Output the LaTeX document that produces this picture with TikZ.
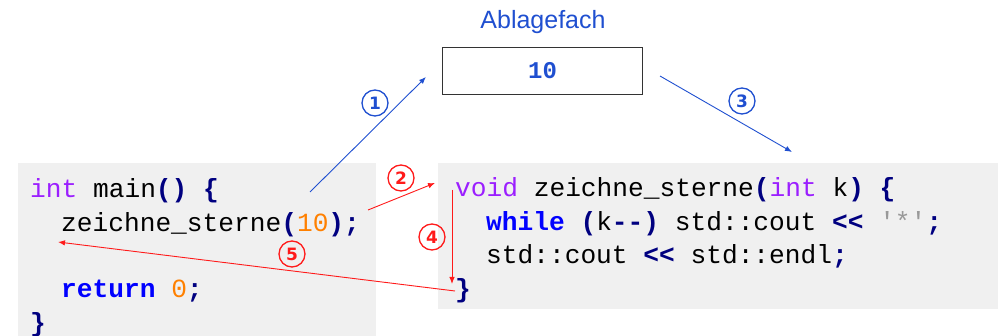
\documentclass[tikz,border=0pt]{standalone}
\usepackage{fontspec}
\setmainfont{Liberation Sans}
\newfontfamily\codefont{Liberation Mono}[Ligatures=TeXOff]
\newfontfamily\numfont{DejaVu Sans}
\usetikzlibrary{arrows.meta}
\definecolor{bgc}{HTML}{F0F0F0}
\definecolor{abl}{HTML}{1F4FD0}
\definecolor{kwt}{HTML}{9B1FFF}
\definecolor{brk}{HTML}{000080}
\definecolor{num}{HTML}{FF8000}
\definecolor{kwb}{HTML}{0000FF}
\definecolor{redc}{HTML}{FF1A1A}
\newcommand{\ty}[1]{\textcolor{kwt}{#1}}
\newcommand{\br}[1]{\textcolor{brk}{\bfseries #1}}
\newcommand{\nm}[1]{\textcolor{num}{#1}}
\newcommand{\kw}[1]{\textcolor{kwb}{\bfseries #1}}
\begin{document}
\begin{tikzpicture}[x=1pt,y=-1pt,
  code/.style={anchor=base west,inner sep=0pt,font=\codefont\fontsize{26.2}{30}\selectfont},
  num/.style={circle,draw=#1,text=#1,line width=1.3pt,inner sep=0pt,minimum size=26pt,font=\numfont\bfseries\fontsize{17}{18}\selectfont},
  barrow/.style={draw=abl,line width=0.9pt,-{Latex[length=7pt,width=5.5pt]}},
  rarrow/.style={draw=redc,line width=0.9pt,-{Latex[length=7pt,width=5.5pt]}}]
\useasboundingbox (0,0) rectangle (998,336);
\fill[bgc] (18,163) rectangle (376,336);
\fill[bgc] (438,163) rectangle (998,309);
% title and box
\node[text=abl,font=\fontsize{25}{28}\selectfont] (title) at (543,22) {Ablagefach};
\node[draw=black!80,line width=1.3pt,fill=white,minimum width=200pt,minimum height=47pt,inner sep=0pt,text=abl,font=\codefont\bfseries\fontsize{24}{26}\selectfont] (box) at (542.5,71) {10};
% left code
\node[code] (l1) at (30,198) {\ty{int} main\br{()} \br{\{}};
\node[code] (l2) at (61,232) {zeichne\_sterne\br{(}\nm{10}\br{);}};
\node[code] (l3) at (61,298) {\kw{return} \nm{0}\br{;}};
\node[code] (l4) at (30,332) {\br{\}}};
% right code
\node[code] (r1) at (455,197) {\ty{void} zeichne\_sterne\br{(}\ty{int} k\br{)} \br{\{}};
\node[code] (r2) at (486,231) {\kw{while} \br{(}k\br{--)} std::cout \br{<<} \textcolor{gray!80}{'*'}\br{;}};
\node[code] (r3) at (486,264) {std::cout \br{<<} std::endl\br{;}};
\node[code] (r4) at (455,298) {\br{\}}};
% connector endpoints
\coordinate (a1s) at (310,192);
\coordinate (a1e) at (426,77);
\coordinate (a3s) at (660,76);
\coordinate (a3e) at (792,152);
\coordinate (a2s) at (368,210);
\coordinate (a2e) at (435,183);
\coordinate (a4s) at (452,190);
\coordinate (a4e) at (452,284);
\coordinate (a5s) at (455,291);
\coordinate (a5e) at (58,242);
\draw[barrow] (a1s) -- (a1e);
\draw[barrow] (a3s) -- (a3e);
\draw[rarrow] (a2s) -- (a2e);
\draw[rarrow] (a4s) -- (a4e);
\draw[rarrow] (a5s) -- (a5e);
% step numbers
\node[num=abl] (n1) at (375,103) {1};
\node[num=abl] (n3) at (742,101) {3};
\node[num=redc] (n2) at (401,178) {2};
\node[num=redc] (n4) at (432,237) {4};
\node[num=redc] (n5) at (292,254) {5};
\end{tikzpicture}
\end{document}
